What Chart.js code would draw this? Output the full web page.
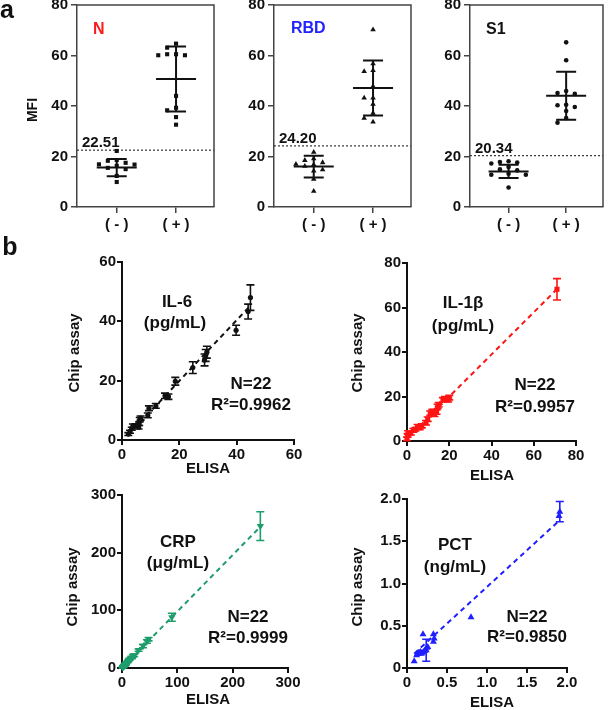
<!DOCTYPE html>
<html>
<head>
<meta charset="utf-8">
<script src="https://cdn.jsdelivr.net/npm/chart.js@4.4.1/dist/chart.umd.min.js"></script>
<style>
  body { margin: 0; background: #fff; width: 608px; height: 710px; position: relative; overflow: hidden; }
  canvas { position: absolute; left: 0; top: 0; }
</style>
</head>
<body>
<canvas id="n" width="608" height="710"></canvas>
<canvas id="rbd" width="608" height="710"></canvas>
<canvas id="s1" width="608" height="710"></canvas>
<canvas id="il6" width="608" height="710"></canvas>
<canvas id="il1b" width="608" height="710"></canvas>
<canvas id="crp" width="608" height="710"></canvas>
<canvas id="pct" width="608" height="710"></canvas>
<script>
// ---- panel a: MFI per sample ----
const groups = ["( - )", "( + )"];

const nNeg = [22.2, 18.6, 18.3, 17.5, 16.9, 16.8, 16.3, 15.5, 15.0, 12.3, 9.9];
const nPos = [64.7, 63.1, 60.5, 60.5, 60.1, 60.1, 44.0, 39.3, 38.3, 35.6, 32.6];
const nMean = [15.6, 50.7];
const nSd = [3.4, 12.9];
const nCut = 22.51;

const rbdNeg = [21.7, 19.1, 18.5, 17.6, 17.0, 16.8, 16.2, 14.8, 14.3, 11.0, 6.3];
const rbdPos = [70.2, 56.8, 54.1, 53.7, 47.8, 43.2, 43.2, 40.7, 37.2, 35.2, 33.7];
const rbdMean = [16.0, 47.1];
const rbdSd = [4.3, 10.9];
const rbdCut = 24.20;

const s1Neg = [18.1, 17.8, 17.6, 17.2, 15.8, 14.9, 14.5, 13.2, 12.8, 12.8, 7.7];
const s1Pos = [65.2, 58.1, 45.9, 45.1, 44.8, 40.5, 40.3, 39.6, 38.0, 35.2, 33.4];
const s1Mean = [14.1, 44.1];
const s1Sd = [2.65, 9.5];
const s1Cut = 20.34;

// ---- panel b: ELISA vs chip assay (N=22 each) ----
const il6Elisa = [2.2, 2.8, 3.4, 3.8, 4.8, 5.8, 6.0, 6.2, 6.5, 9.0, 9.4, 11.8, 15.0, 16.2, 18.6, 24.7, 28.8, 29.2, 29.6, 39.8, 44.0, 44.8];
const il6Chip = [2.0, 2.8, 3.8, 4.8, 4.9, 4.3, 5.5, 6.9, 7.4, 8.3, 10.7, 11.5, 14.9, 14.6, 19.8, 24.4, 27.0, 28.5, 29.6, 37.0, 43.3, 48.0];
const il6Err = [0.5, 0.5, 0.5, 0.6, 0.6, 0.6, 0.6, 0.7, 0.7, 0.8, 0.8, 0.8, 0.9, 0.9, 1.3, 2.0, 2.0, 2.0, 2.0, 1.7, 2.5, 4.3];
const il6FitX = [2.0, 44.5];
const il6FitY = [1.5, 45.0];

const il1bElisa = [0.0, 0.3, 0.5, 1.8, 3.0, 4.0, 5.0, 6.0, 7.0, 9.0, 9.8, 11.0, 12.0, 13.0, 14.0, 14.5, 15.0, 17.0, 18.0, 19.5, 20.0, 71.0];
const il1bChip = [1.0, 2.5, 3.8, 3.5, 4.8, 5.3, 6.5, 6.0, 6.8, 8.2, 9.8, 12.5, 13.3, 12.0, 13.0, 15.5, 16.3, 18.5, 19.0, 18.5, 19.5, 68.2];
const il1bErr = [0.8, 0.8, 0.8, 0.8, 0.8, 0.8, 0.9, 0.9, 0.9, 1.0, 1.0, 1.0, 1.0, 1.0, 1.0, 1.0, 1.0, 1.0, 1.0, 1.0, 1.0, 4.8];
const il1bFitX = [0.0, 70.2];
const il1bFitY = [1.0, 67.5];

const crpElisa = [1, 2, 3, 4, 5, 6, 7, 8, 10, 11, 12, 14, 16, 18, 20, 22, 30, 38, 45, 48, 90, 250];
const crpChip = [1, 3, 2, 5, 4, 7, 6, 9, 10, 12, 14, 15, 18, 17, 21, 22, 31, 38, 46, 50, 88, 246];
const crpErr = [1, 1, 1, 1, 1, 1, 1, 1, 1, 1, 1, 1, 1, 1, 2, 2, 2, 3, 3, 3, 7, 25];
const crpFitX = [0, 250];
const crpFitY = [0, 245];

const pctElisa = [0.09, 0.12, 0.13, 0.14, 0.15, 0.16, 0.17, 0.18, 0.19, 0.20, 0.21, 0.22, 0.23, 0.24, 0.25, 0.26, 0.33, 0.33, 0.34, 0.80, 1.90, 1.91];
const pctChip = [0.08, 0.15, 0.17, 0.18, 0.17, 0.18, 0.19, 0.17, 0.18, 0.40, 0.19, 0.20, 0.22, 0.21, 0.24, 0.25, 0.40, 0.31, 0.35, 0.60, 1.80, 1.85];
const pctErr = [0, 0, 0, 0, 0, 0, 0, 0, 0, 0, 0, 0, 0, 0.13, 0, 0, 0, 0, 0, 0, 0, 0.12];
const pctFitX = [0.09, 1.91];
const pctFitY = [0.17, 1.75];

Chart.defaults.font.family = '"Liberation Sans", Arial, sans-serif';
Chart.defaults.font.weight = "bold";
Chart.defaults.color = "#111";

const W = 608, H = 710;
const X_MIN = -0.67, X_MAX = 1.64;

function fixSize(isY, size) {
  return function (s) {
    if (isY) s.width = size; else s.height = size;
    s.paddingLeft = s.paddingRight = s.paddingTop = s.paddingBottom = 0;
  };
}

// spread points of one group sideways so equal values don't overlap
function swarm(values, center, step, gap) {
  const placed = [];
  const slots = [0, -1, 1, -2, 2, -3, 3, -4, 4];
  const order = values.map((v, i) => i).sort((a, b) => values[b] - values[a]);
  order.forEach(i => {
    const v = values[i];
    const s = slots.find(k => !placed.some(p => p.s === k && Math.abs(p.v - v) < gap));
    placed.push({ s: s, v: v });
  });
  return placed.map(p => ({ x: center + p.s * step, y: p.v }));
}

const notesPlugin = {
  id: "notes",
  afterDraw(chart, args, opts) {
    const ctx = chart.ctx, a = chart.chartArea;
    (opts.items || []).forEach(n => {
      ctx.save();
      ctx.font = "bold " + (n.size || 16) + 'px "Liberation Sans", Arial, sans-serif';
      ctx.fillStyle = n.color || "#111";
      ctx.textAlign = n.align || "center";
      ctx.textBaseline = "middle";
      ctx.translate(a.left + n.x, a.top + n.y);
      if (n.rotate) ctx.rotate(-Math.PI / 2);
      ctx.fillText(n.text, 0, 0);
      ctx.restore();
    });
  }
};

// mean line, SD whiskers, cutoff label, top/right frame
const summaryPlugin = {
  id: "summary",
  afterDatasetsDraw(chart, args, opts) {
    if (!opts.mean) return;
    const ctx = chart.ctx, a = chart.chartArea;
    const xs = chart.scales.x, ys = chart.scales.y;
    ctx.save();
    ctx.strokeStyle = "#444";
    ctx.lineWidth = 1.5;
    ctx.beginPath();
    ctx.moveTo(a.left, a.top); ctx.lineTo(a.right, a.top); ctx.lineTo(a.right, a.bottom);
    ctx.stroke();

    ctx.strokeStyle = "#111";
    ctx.lineWidth = 2;
    opts.mean.forEach((m, i) => {
      const cx = xs.getPixelForValue(i);
      const ym = ys.getPixelForValue(m);
      const yt = ys.getPixelForValue(m + opts.sd[i]);
      const yb = ys.getPixelForValue(m - opts.sd[i]);
      ctx.beginPath();
      ctx.moveTo(cx - 20, ym); ctx.lineTo(cx + 20, ym);
      ctx.moveTo(cx, yt); ctx.lineTo(cx, yb);
      ctx.moveTo(cx - 10, yt); ctx.lineTo(cx + 10, yt);
      ctx.moveTo(cx - 10, yb); ctx.lineTo(cx + 10, yb);
      ctx.stroke();
    });

    ctx.font = 'bold 15px "Liberation Sans", Arial, sans-serif';
    ctx.fillStyle = "#111";
    ctx.textAlign = "left";
    ctx.textBaseline = "alphabetic";
    ctx.fillText(opts.cut.toFixed(2), a.left + 5, ys.getPixelForValue(opts.cut) - 3);
    ctx.restore();
  }
};

const errorPlugin = {
  id: "errorBars",
  afterDatasetsDraw(chart) {
    const ctx = chart.ctx, ys = chart.scales.y;
    chart.data.datasets.forEach((ds, di) => {
      if (!ds.err) return;
      const meta = chart.getDatasetMeta(di);
      ctx.save();
      ctx.strokeStyle = ds.borderColor;
      ctx.lineWidth = 1.6;
      meta.data.forEach((pt, i) => {
        const e = ds.err[i];
        if (!e) return;
        const v = ds.data[i].y;
        const y1 = ys.getPixelForValue(v + e), y2 = ys.getPixelForValue(v - e);
        ctx.beginPath();
        ctx.moveTo(pt.x, y1); ctx.lineTo(pt.x, y2);
        ctx.moveTo(pt.x - 4, y1); ctx.lineTo(pt.x + 4, y1);
        ctx.moveTo(pt.x - 4, y2); ctx.lineTo(pt.x + 4, y2);
        ctx.stroke();
      });
      ctx.restore();
    });
  }
};

function padFor(area, yw, xh) {
  return { left: area.l - yw, top: area.t, right: W - area.r, bottom: H - area.b - xh };
}

function dotPanel(id, area, neg, pos, mean, sd, cut, style, radius, notes) {
  const pts = swarm(neg, 0, 0.15, 2.2).concat(swarm(pos, 1, 0.15, 2.2));
  new Chart(document.getElementById(id), {
    type: "scatter",
    data: {
      datasets: [
        {
          data: pts,
          pointStyle: style,
          pointRadius: radius,
          pointBackgroundColor: "#111",
          pointBorderColor: "#111",
          pointBorderWidth: 0,
          clip: false,
          order: 0,
        },
        {
          type: "line",
          data: [{ x: X_MIN, y: cut }, { x: X_MAX, y: cut }],
          borderColor: "#333",
          borderWidth: 1.2,
          borderDash: [2, 2],
          pointRadius: 0,
          order: 1,
        },
      ],
    },
    options: {
      responsive: false,
      animation: false,
      devicePixelRatio: 1,
      layout: { autoPadding: false, padding: padFor(area, 50, 30) },
      scales: {
        x: {
          type: "linear",
          min: X_MIN,
          max: X_MAX,
          afterBuildTicks: s => { s.ticks = groups.map((g, i) => ({ value: i })); },
          ticks: {
            callback: v => groups[v],
            padding: 3,
            autoSkip: false,
            maxRotation: 0,
            font: { size: 15, weight: "bold" },
          },
          grid: { drawOnChartArea: false, tickLength: 6, color: "#444", lineWidth: 1.5 },
          border: { color: "#444", width: 1.5 },
          afterFit: fixSize(false, 30),
        },
        y: {
          min: 0,
          max: 80,
          ticks: { stepSize: 20, padding: 3, font: { size: 15, weight: "bold" } },
          grid: { drawOnChartArea: false, tickLength: 6, color: "#444", lineWidth: 1.5 },
          border: { color: "#444", width: 1.5 },
          afterFit: fixSize(true, 50),
        },
      },
      plugins: {
        legend: { display: false },
        tooltip: { enabled: false },
        summary: { mean: mean, sd: sd, cut: cut },
        notes: { items: notes },
      },
    },
    plugins: [summaryPlugin, notesPlugin],
  });
}

function scatterPanel(id, area, xs, ys, err, fitX, fitY, o) {
  const fmt = o.fmt || (v => v);
  const axis = (max, step) => ({
    min: 0,
    max: max,
    ticks: { stepSize: step, padding: 1, autoSkip: false, maxRotation: 0, callback: fmt, font: { size: 15, weight: "bold" } },
    grid: { drawOnChartArea: false, tickLength: 5, color: "#111", lineWidth: 2 },
    border: { color: "#111", width: 2 },
  });
  const xAxis = axis(o.max, o.step);
  xAxis.afterFit = fixSize(false, 30);
  const yAxis = axis(o.max, o.step);
  yAxis.afterFit = fixSize(true, 60);
  new Chart(document.getElementById(id), {
    type: "scatter",
    data: {
      datasets: [
        {
          data: xs.map((x, i) => ({ x: x, y: ys[i] })),
          err: err,
          pointStyle: o.style,
          rotation: o.rotation || 0,
          pointRadius: o.radius,
          pointBackgroundColor: o.color,
          pointBorderColor: o.color,
          borderColor: o.color,
          pointBorderWidth: 0,
          clip: false,
          order: 0,
        },
        {
          type: "line",
          data: fitX.map((x, i) => ({ x: x, y: fitY[i] })),
          borderColor: o.color,
          borderWidth: 2,
          borderDash: [5, 4],
          pointRadius: 0,
          order: 1,
        },
      ],
    },
    options: {
      responsive: false,
      animation: false,
      devicePixelRatio: 1,
      layout: { autoPadding: false, padding: padFor(area, 60, 30) },
      scales: { x: xAxis, y: yAxis },
      plugins: {
        legend: { display: false },
        tooltip: { enabled: false },
        notes: { items: o.notes },
      },
    },
    plugins: [errorPlugin, notesPlugin],
  });
}

dotPanel("n", { l: 77, t: 5, r: 214, b: 207 }, nNeg, nPos, nMean, nSd, nCut, "rect", 2.9, [
  { text: "a", x: -70, y: 6, size: 25 },
  { text: "MFI", x: -44, y: 105, size: 14, rotate: true },
  { text: "N", x: 16, y: 25, align: "left", color: "#ff1a1a" },
]);
dotPanel("rbd", { l: 274, t: 5, r: 411, b: 207 }, rbdNeg, rbdPos, rbdMean, rbdSd, rbdCut, "triangle", 3.2, [
  { text: "RBD", x: 17, y: 24, align: "left", color: "#2323ff" },
]);
dotPanel("s1", { l: 470, t: 5, r: 603, b: 207 }, s1Neg, s1Pos, s1Mean, s1Sd, s1Cut, "circle", 2.3, [
  { text: "S1", x: 16, y: 25, align: "left" },
]);

scatterPanel("il6", { l: 122, t: 262, r: 294, b: 440 }, il6Elisa, il6Chip, il6Err, il6FitX, il6FitY, {
  color: "#111", style: "circle", radius: 2.6, max: 60, step: 20,
  notes: [
    { text: "b", x: -112, y: -14, size: 25 },
    { text: "Chip assay", x: -47, y: 91, size: 15, rotate: true },
    { text: "ELISA", x: 86, y: 207, size: 15 },
    { text: "IL-6", x: 55, y: 40, size: 17 },
    { text: "(pg/mL)", x: 53, y: 61, size: 17 },
    { text: "N=22", x: 129, y: 122, size: 17 },
    { text: "R²=0.9962", x: 129, y: 143, size: 17 },
  ],
});
scatterPanel("il1b", { l: 407, t: 263, r: 576, b: 441 }, il1bElisa, il1bChip, il1bErr, il1bFitX, il1bFitY, {
  color: "#ff1414", style: "rect", radius: 3.6, max: 80, step: 20,
  notes: [
    { text: "Chip assay", x: -49, y: 90, size: 15, rotate: true },
    { text: "ELISA", x: 85, y: 213, size: 15 },
    { text: "IL-1β", x: 56, y: 40, size: 17 },
    { text: "(pg/mL)", x: 56, y: 63, size: 17 },
    { text: "N=22", x: 128, y: 122, size: 17 },
    { text: "R²=0.9957", x: 128, y: 144, size: 17 },
  ],
});
scatterPanel("crp", { l: 122, t: 495, r: 288, b: 668 }, crpElisa, crpChip, crpErr, crpFitX, crpFitY, {
  color: "#1d9d6c", style: "triangle", rotation: 180, radius: 4.2, max: 300, step: 100,
  notes: [
    { text: "Chip assay", x: -49, y: 92, size: 15, rotate: true },
    { text: "ELISA", x: 86, y: 205, size: 15 },
    { text: "CRP", x: 56, y: 47, size: 17 },
    { text: "(μg/mL)", x: 56, y: 68, size: 17 },
    { text: "N=22", x: 126, y: 122, size: 17 },
    { text: "R²=0.9999", x: 126, y: 143, size: 17 },
  ],
});
scatterPanel("pct", { l: 407, t: 499, r: 567, b: 668 }, pctElisa, pctChip, pctErr, pctFitX, pctFitY, {
  color: "#1f1fff", style: "triangle", radius: 4, max: 2, step: 0.5,
  fmt: v => (v === 0 ? "0" : v.toFixed(1)),
  notes: [
    { text: "Chip assay", x: -49, y: 88, size: 15, rotate: true },
    { text: "ELISA", x: 85, y: 204, size: 15 },
    { text: "PCT", x: 48, y: 46, size: 17 },
    { text: "(ng/mL)", x: 48, y: 68, size: 17 },
    { text: "N=22", x: 120, y: 118, size: 17 },
    { text: "R²=0.9850", x: 120, y: 138, size: 17 },
  ],
});
</script>
</body>
</html>
